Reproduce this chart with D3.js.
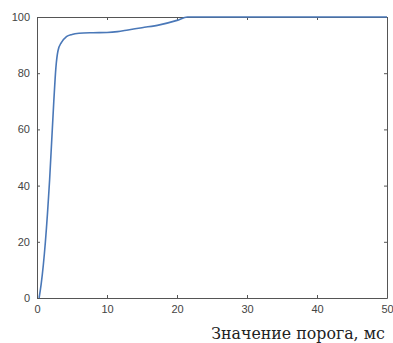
<!DOCTYPE html>
<html>
<head>
<meta charset="utf-8">
<script src="https://cdn.jsdelivr.net/npm/d3@7"></script>
<style>
  body { margin: 0; background: #fff; }
  .tick text { font-family: Arial, "Liberation Sans", sans-serif; font-size: 11px; fill: #444; }
  .x-label { font-family: "DejaVu Serif", serif; font-size: 15.8px; fill: #222; }
</style>
</head>
<body>
<div class="js-chart"></div>
<script>
'use strict';

// threshold value (ms) and share (%)
var thresholds = [0.3, 0.6, 1.2, 1.8, 2.4, 2.7, 3, 3.5, 4.2, 5, 6, 8, 10, 11.5, 13, 15, 17.5, 20, 21.5, 50];
var shares = [0, 5, 20, 42, 70, 82, 88, 91, 93, 93.8, 94.2, 94.4, 94.5, 94.8, 95.4, 96.2, 97.2, 98.8, 100, 100];
var xTicks = [0, 10, 20, 30, 40, 50];
var yTicks = [0, 20, 40, 60, 80, 100];
var xLabel = 'Значение порога, мс';

var dim = { w: 393, h: 343 };
var m = { l: 37, r: 6, t: 17, b: 45 };

var svg = d3.select('.js-chart').append('svg')
    .attr('width', dim.w)
    .attr('height', dim.h);

var x = d3.scaleLinear().domain([0, 50]).range([m.l, dim.w - m.r]);
var y = d3.scaleLinear().domain([0, 100]).range([dim.h - m.b, m.t]);

//axes with inward ticks, matlab style box
function styleAxis(g) {
    g.select('.domain').attr('stroke', '#555');
    g.selectAll('.tick line').attr('stroke', '#555');
}

svg.append('g')
    .attr('transform', 'translate(0,' + y(0) + ')')
    .call(d3.axisBottom(x).tickValues(xTicks).tickSizeInner(-3).tickSizeOuter(0).tickPadding(7))
    .call(styleAxis);

svg.append('g')
    .attr('transform', 'translate(0,' + y(100) + ')')
    .call(d3.axisTop(x).tickValues(xTicks).tickSizeInner(-3).tickSizeOuter(0).tickFormat(''))
    .call(styleAxis);

svg.append('g')
    .attr('transform', 'translate(' + x(0) + ',0)')
    .call(d3.axisLeft(y).tickValues(yTicks).tickSizeInner(-3).tickSizeOuter(0).tickPadding(7))
    .call(styleAxis);

svg.append('g')
    .attr('transform', 'translate(' + x(50) + ',0)')
    .call(d3.axisRight(y).tickValues(yTicks).tickSizeInner(-3).tickSizeOuter(0).tickFormat(''))
    .call(styleAxis);

var line = d3.line()
    .x(function (d, i) { return x(thresholds[i]); })
    .y(function (d) { return y(d); })
    .curve(d3.curveMonotoneX);

svg.append('path')
    .datum(shares)
    .attr('d', line)
    .style('fill', 'none')
    .style('stroke', '#4a78b8')
    .style('stroke-width', 1.6);

svg.append('text')
    .attr('class', 'x-label')
    .attr('x', 298)
    .attr('y', 339)
    .attr('text-anchor', 'middle')
    .text(xLabel);
</script>
</body>
</html>
